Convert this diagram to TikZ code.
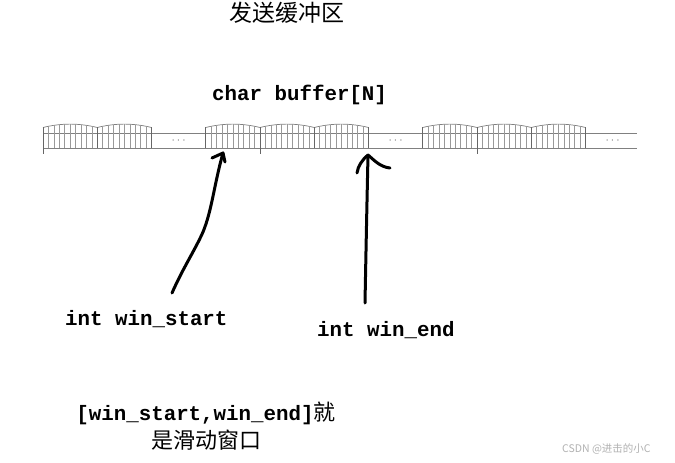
\documentclass[tikz,border=0pt]{standalone}
\usepackage{fontspec}
\setmonofont{Liberation Mono}
\newfontfamily\cjk{Noto Sans CJK SC}
\begin{document}
\begin{tikzpicture}[x=1pt,y=-1pt,
  rail/.style={draw=black!50,line width=0.9pt},
  slat/.style={draw=black!40,line width=0.5pt},
  post/.style={draw=black!60,line width=0.9pt},
  arcst/.style={draw=black!50,line width=0.7pt},
  hand/.style={draw=black,line width=3pt,line cap=round,line join=round},
  code/.style={font=\fontsize{20.8}{26}\selectfont\ttfamily\bfseries,inner sep=0pt,anchor=base west},
  dotsst/.style={font=\fontsize{13}{14}\selectfont,text=black!55,inner sep=0pt}]
\useasboundingbox (0,0) rectangle (675,463);
\fill[white] (0,0) rectangle (675,463);

% title
\node[font=\fontsize{23}{26}\selectfont\cjk,inner sep=0pt] (title) at (287,13) {发送缓冲区};
\node[code] (buf) at (212,100) {char buffer[N]};

% rails
\draw[rail] (43,133) -- (637,133);
\draw[rail] (43,148) -- (637,148);
\def\cw{54.25}
\foreach \i in {0,1,3,4,5,7,8,9}{
  \pgfmathsetmacro{\xa}{43+\cw*\i}
  \pgfmathsetmacro{\xb}{43+\cw*(\i+1)}
  \draw[arcst] (\xa,127.5) .. controls (\xa+18,123) and (\xb-18,123) .. (\xb,127.5);
  \foreach \k in {1,...,9}{
    \pgfmathsetmacro{\t}{\k/10}
    \pgfmathsetmacro{\yt}{127.5-4*3.4*\t*(1-\t)}
    \draw[slat] (\xa+\cw*\t,\yt) -- (\xa+\cw*\t,148);
  }
  \draw[post] (\xa,127) -- (\xa,148);
  \draw[post] (\xb,127) -- (\xb,148);
}
% long ticks
\foreach \i in {0,4,8}{
  \draw[post] (43+\cw*\i,148) -- (43+\cw*\i,154);
}
% dots in gaps
\foreach \i in {2,6,10}{
  \node[dotsst] (g\i) at (43+\cw*\i+\cw/2,141) {$\cdots$};
}

% pointers
\coordinate (s0) at (172,293);
\coordinate (s1) at (223,153);
\draw[hand] (s0) .. controls (183,268) and (195,250) .. (203,232)
  .. controls (212,210) and (214,185) .. (s1);
\draw[hand] (212,158) -- (s1) -- (225,162);

\coordinate (e0) at (365,303);
\coordinate (e1) at (368,155);
\draw[hand] (e0) .. controls (366,250) and (367,200) .. (e1);
\draw[hand] (357,173) .. controls (358,166) and (362,160) .. (e1)
  .. controls (374,160) and (380,167) .. (390,168);

\node[code] (ws) at (65,325) {int win\_start};
\node[code] (we) at (317,336) {int win\_end};

\node[inner sep=0pt,align=center,anchor=base] (win) at (206,448)
  {{\fontsize{20.8}{26}\selectfont\ttfamily\bfseries [win\_start,win\_end]}{\fontsize{22}{26}\selectfont\cjk 就}\\[4pt]
   {\fontsize{22}{26}\selectfont\cjk 是滑动窗口}};

\node[font=\fontsize{10.5}{12}\selectfont\cjk,text=black!30,inner sep=0pt,anchor=base west] (wm) at (562,452) {CSDN @进击的小C};
\end{tikzpicture}
\end{document}
